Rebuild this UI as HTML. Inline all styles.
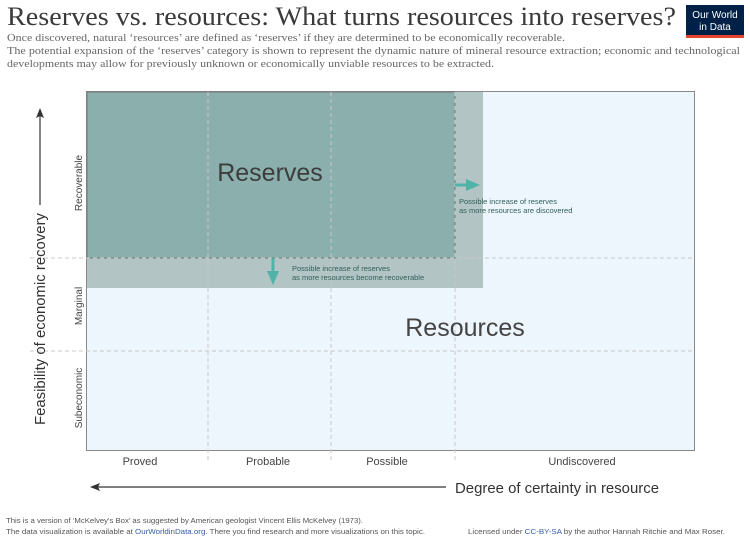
<!DOCTYPE html>
<html><head><meta charset="utf-8"><style>
body{margin:0;background:#fff;width:750px;height:538px;overflow:hidden;font-family:"Liberation Sans",sans-serif}
svg{display:block}
</style></head><body>
<svg width="750" height="538" xmlns="http://www.w3.org/2000/svg">
<text x="7" y="25" font-family="Liberation Serif,serif" font-size="26" fill="#3a3a3a" textLength="669" lengthAdjust="spacingAndGlyphs">Reserves vs. resources: What turns resources into reserves?</text>
<text x="7" y="41" font-family="Liberation Serif,serif" font-size="10.5" fill="#666" textLength="558" lengthAdjust="spacingAndGlyphs">Once discovered, natural ‘resources’ are defined as ‘reserves’ if they are determined to be economically recoverable.</text>
<text x="7" y="54" font-family="Liberation Serif,serif" font-size="10.5" fill="#666" textLength="733" lengthAdjust="spacingAndGlyphs">The potential expansion of the ‘reserves’ category is shown to represent the dynamic nature of mineral resource extraction; economic and technological</text>
<text x="7" y="67" font-family="Liberation Serif,serif" font-size="10.5" fill="#666" textLength="487" lengthAdjust="spacingAndGlyphs">developments may allow for previously unknown or economically unviable resources to be extracted.</text>
<rect x="686" y="5" width="58" height="33" fill="#002147"/>
<rect x="686" y="35" width="58" height="3" fill="#e5432b"/>
<text x="715" y="18" font-size="10" fill="#fff" text-anchor="middle">Our World</text>
<text x="715" y="30" font-size="10" fill="#fff" text-anchor="middle">in Data</text>

<rect x="86.5" y="91.5" width="608" height="359" fill="#eef6fd" stroke="#888" stroke-width="1"/>
<rect x="87" y="92" width="396" height="196" fill="#b2c4c4"/>
<rect x="87" y="92" width="368" height="166" fill="#8aafac" stroke="#777" stroke-width="1"/>
<g stroke="#c8c8c8" stroke-dasharray="4,3" stroke-width="1">
<line x1="208" y1="92" x2="208" y2="462"/><line x1="331" y1="92" x2="331" y2="462"/><line x1="455" y1="92" x2="455" y2="462"/>
<line x1="30" y1="258" x2="694" y2="258"/><line x1="30" y1="351" x2="694" y2="351"/>
</g>
<text x="270" y="181" font-size="25" fill="#3d3d3d" text-anchor="middle">Reserves</text>
<text x="465" y="336" font-size="25" fill="#444" text-anchor="middle">Resources</text>
<line x1="455" y1="185" x2="467" y2="185" stroke="#4fb3a8" stroke-width="3"/>
<polygon points="466,179 480,185 466,191" fill="#4fb3a8"/>
<line x1="273" y1="258" x2="273" y2="272" stroke="#4fb3a8" stroke-width="3"/>
<polygon points="267,271 273,285 279,271" fill="#4fb3a8"/>
<g font-size="7.5" fill="#2f5f5a">
<text x="459" y="204">Possible increase of reserves</text>
<text x="459" y="213">as more resources are discovered</text>
<text x="292" y="271">Possible increase of reserves</text>
<text x="292" y="280">as more resources become recoverable</text>
</g>
<g font-size="11" fill="#444" text-anchor="middle">
<text x="140" y="465">Proved</text><text x="268" y="465">Probable</text><text x="387" y="465">Possible</text><text x="582" y="465">Undiscovered</text>
</g>
<g font-size="10" fill="#444" text-anchor="middle">
<text transform="translate(82,183) rotate(-90)">Recoverable</text>
<text transform="translate(82,306) rotate(-90)">Marginal</text>
<text transform="translate(82,398) rotate(-90)">Subeconomic</text>
</g>
<line x1="96" y1="487" x2="446" y2="487" stroke="#333" stroke-width="1.2"/>
<polygon points="90,487 100,483 98,487 100,491" fill="#333"/>
<text x="455" y="493" font-size="14.5" fill="#333" textLength="204" lengthAdjust="spacingAndGlyphs">Degree of certainty in resource</text>
<line x1="40" y1="115" x2="40" y2="205" stroke="#333" stroke-width="1.2"/>
<polygon points="40,108 36,118 40,116 44,118" fill="#333"/>
<text transform="translate(45,425) rotate(-90)" font-size="14.5" fill="#333" textLength="212" lengthAdjust="spacingAndGlyphs">Feasibility of economic recovery</text>
<g font-size="7.2" fill="#555">
<text x="6" y="523" textLength="357" lengthAdjust="spacingAndGlyphs">This is a version of ‘McKelvey's Box’ as suggested by American geologist Vincent Ellis McKelvey (1973).</text>
<text x="6" y="534" textLength="419" lengthAdjust="spacingAndGlyphs">The data visualization is available at <tspan fill="#3360a9">OurWorldinData.org</tspan>. There you find research and more visualizations on this topic.</text>
<text x="468" y="534" textLength="257" lengthAdjust="spacingAndGlyphs">Licensed under <tspan fill="#3360a9">CC-BY-SA</tspan> by the author Hannah Ritchie and Max Roser.</text>
</g>
</svg>
</body></html>
